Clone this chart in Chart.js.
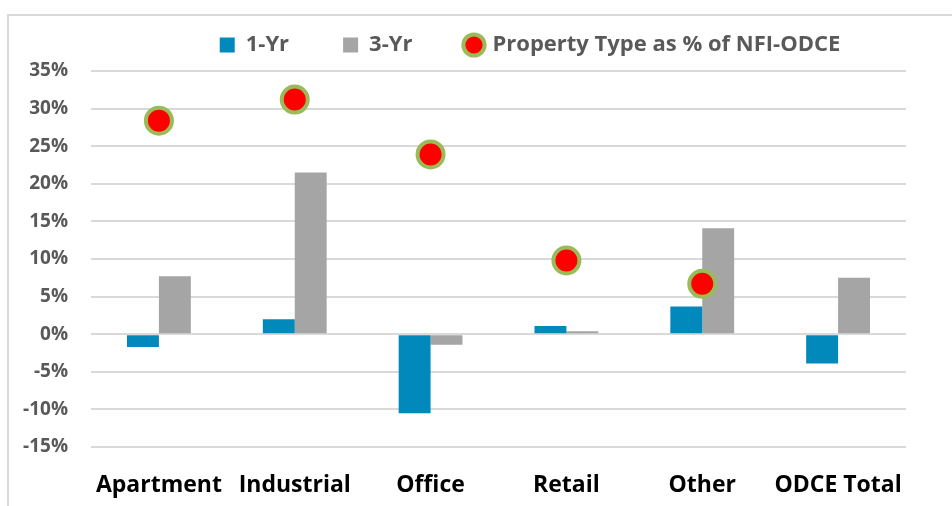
<!DOCTYPE html>
<html>
<head>
<meta charset="utf-8">
<script src="https://cdn.jsdelivr.net/npm/chart.js@4/dist/chart.umd.min.js"></script>
<style>
  html, body { margin: 0; padding: 0; background: #fff; overflow: hidden; }
  #wrap { position: relative; width: 952px; height: 506px; overflow: hidden; }
  #frame { position: absolute; left: 7px; top: 14px; width: 1100px; height: 700px; border: 2px solid #d9d9d9; box-sizing: border-box; }
  #c { position: absolute; left: 0; top: 0; }
</style>
</head>
<body>
<div id="wrap">
  <div id="frame"></div>
  <canvas id="c" width="952" height="506"></canvas>
</div>
<script>
const categories = ["Apartment", "Industrial", "Office", "Retail", "Other", "ODCE Total"];
const oneYr = [-1.7, 2.0, -10.5, 1.1, 3.7, -3.9];
const threeYr = [7.7, 21.5, -1.4, 0.4, 14.1, 7.5];
const propertyShare = [28.4, 31.2, 23.9, 9.8, 6.7, null];
const seriesNames = ["1-Yr", "3-Yr", "Property Type as % of NFI-ODCE"];
const yTicks = [-15, -10, -5, 0, 5, 10, 15, 20, 25, 30, 35];

const FONT = "'Open Sans', sans-serif";

const legendShift = {
  id: 'legendShift',
  afterLayout(chart) {
    const l = chart.legend;
    if (!l) return;
    const dx = 530 - (l.left + l.right) / 2;
    l.left += dx; l.right += dx;
    l.top -= 5; l.bottom -= 5;
  }
};

new Chart(document.getElementById('c'), {
  type: 'bar',
  data: {
    labels: categories,
    datasets: [
      { label: seriesNames[0], data: oneYr, backgroundColor: '#0089BA', borderWidth: 0,
        categoryPercentage: 0.47, barPercentage: 1.0, pointStyle: 'rect' },
      { label: seriesNames[1], data: threeYr, backgroundColor: '#A5A5A5', borderWidth: 0,
        categoryPercentage: 0.47, barPercentage: 1.0, pointStyle: 'rect' },
      { type: 'line', label: seriesNames[2], data: propertyShare, showLine: false,
        pointRadius: 13, pointHoverRadius: 13, pointBackgroundColor: '#FF0000',
        pointBorderColor: '#9BBB59', pointBorderWidth: 4, backgroundColor: '#FF0000',
        borderColor: '#9BBB59', borderWidth: 4, pointStyle: 'circle', order: -1 }
    ]
  },
  options: {
    responsive: false,
    animation: false,
    events: [],
    layout: { padding: { left: 0, right: 46, top: -15, bottom: 0 } },
    plugins: {
      tooltip: { enabled: false },
      legend: {
        position: 'top',
        labels: {
          usePointStyle: true,
          boxWidth: 15,
          boxHeight: 15,
          padding: 54,
          color: '#595959',
          font: { family: FONT, size: 22, weight: 'bold' },
          sort: (a, b) => a.datasetIndex - b.datasetIndex
        }
      }
    },
    scales: {
      x: {
        grid: { display: false, drawTicks: false },
        border: { display: false },
        ticks: { color: '#000000', padding: 25, font: { family: FONT, size: 23, weight: 'bold' }, maxRotation: 0, autoSkip: false },
        afterFit: (s) => { s.height = 59; }
      },
      y: {
        min: -15, max: 35,
        afterBuildTicks: (s) => { s.ticks = yTicks.map(v => ({ value: v })); },
        grid: { color: '#D9D9D9', lineWidth: 2, drawTicks: false },
        border: { display: false },
        ticks: { color: '#595959', padding: 23, font: { family: FONT, size: 19, weight: 'bold' }, callback: (v) => v + '%' },
        afterFit: (s) => { s.width = 91; }
      }
    }
  },
  plugins: [legendShift]
});
</script>
</body>
</html>
